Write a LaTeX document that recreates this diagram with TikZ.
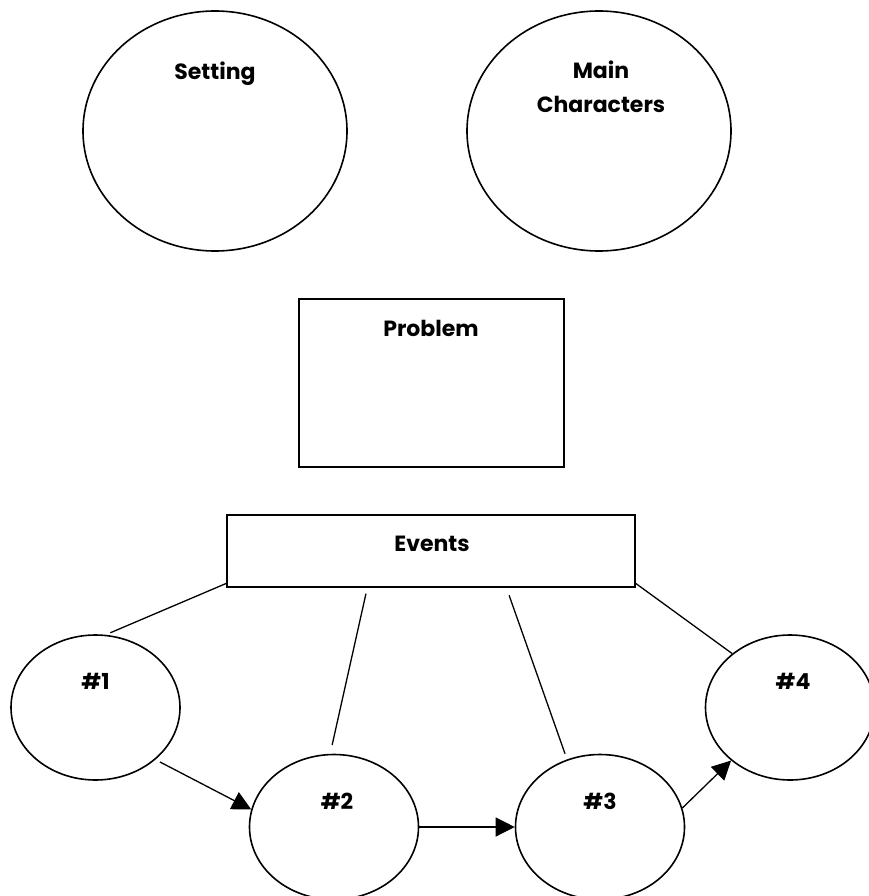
\documentclass[tikz,border=0pt]{standalone}
\usepackage{fontspec}
\setmainfont{Poppins}
\usetikzlibrary{shapes.geometric,arrows.meta}
\begin{document}
\begin{tikzpicture}[x=1pt,y=-1pt]
    \tikzstyle{bubble}=[ellipse,draw=black,line width=1.6pt,inner sep=0pt]
    \tikzstyle{box}=[rectangle,draw=black,line width=1.6pt,inner sep=0pt]
    \tikzstyle{caption}=[font=\fontsize{22}{34}\selectfont\bfseries,inner sep=0pt,anchor=base,align=center]
    \tikzstyle{link}=[line width=1.3pt]
    \tikzstyle{flow}=[line width=1.3pt,-{Triangle[length=19pt,width=19pt]}]
    \useasboundingbox (0,0) rectangle (868,896);
    % top row
    \node[bubble,minimum width=264pt,minimum height=240pt] (set) at (215,131){};
    \node[bubble,minimum width=264pt,minimum height=240pt] (chars) at (599,131){};
    \node[caption] (settxt) at (215,80){Setting};
    \node[caption] (charstxt) at (601,113){Main\\Characters};
    % problem and events
    \node[box,minimum width=265pt,minimum height=168pt] (prob) at (431.5,383){};
    \node[caption] (probtxt) at (431,336){Problem};
    \node[box,minimum width=408pt,minimum height=72pt] (ev) at (431,551){};
    \node[caption] (evtxt) at (432,551){Events};
    % the four events
    \node[bubble,minimum width=169pt,minimum height=145pt] (e1) at (95.5,707.5){};
    \node[bubble,minimum width=169pt,minimum height=145pt] (e2) at (334,827){};
    \node[bubble,minimum width=169pt,minimum height=145pt] (e3) at (600,827){};
    \node[bubble,minimum width=169pt,minimum height=145pt] (e4) at (790,707.5){};
    \node[caption] (t1) at (95.5,689){\#1};
    \node[caption] (t2) at (337,809){\#2};
    \node[caption] (t3) at (600,809){\#3};
    \node[caption] (t4) at (793,689){\#4};
    \draw[link,shorten >=5pt] (ev.189) -- (e1.82);
    \draw[link,shorten <=6pt,shorten >=9pt] (ev.210) -- (e2.93);
    \draw[link,shorten <=8pt,shorten >=6pt] (ev.334) -- (e3.116);
    \draw[link] (ev.351) -- (e4.137);
    \draw[flow,shorten <=5pt] (e1.319) -- (e2.168);
    \draw[flow] (e2.east) -- (e3.west);
    \draw[flow] (e3.13) -- (e4.222);
\end{tikzpicture}
\end{document}
